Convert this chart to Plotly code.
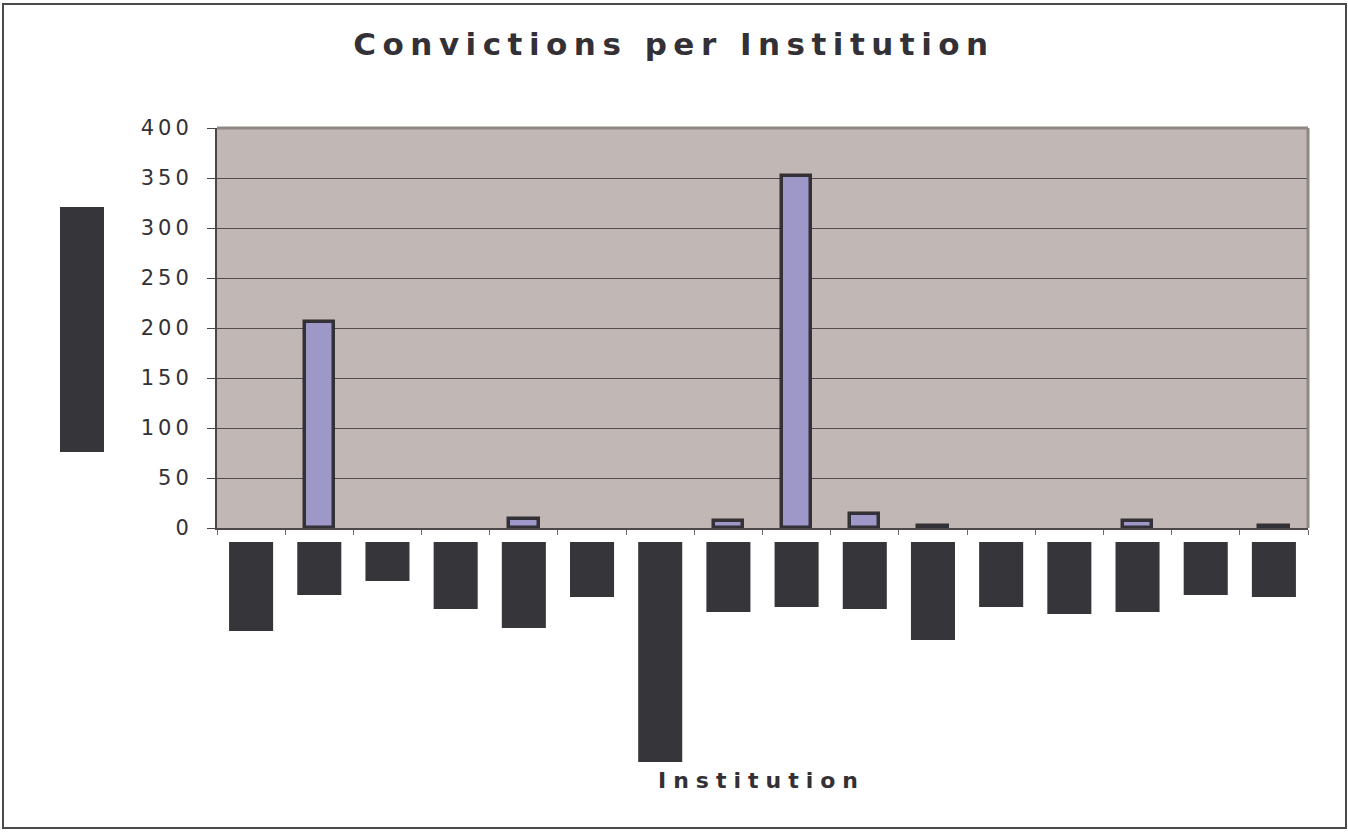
import plotly.graph_objects as go

# Convictions recorded for each of the 16 institutions
institutions = list(range(1, 17))
convictions = [0, 206, 0, 0, 9, 0, 0, 7, 352, 14, 2, 0, 0, 7, 0, 2]

y_ticks = [0, 50, 100, 150, 200, 250, 300, 350, 400]
y_tick_labels = [str(v) for v in y_ticks]

# Lower edge (page pixels) of the blacked-out category labels
label_block_bottom = [631, 595, 581, 609, 628, 597, 762, 612, 607, 609, 640, 607, 614, 612, 595, 597]

W, H = 1348, 834
L, R, T, B = 217, 1308, 128, 528   # plot-area edges in page pixels

def px_x(p):
    return (p - L) / (R - L)

def px_y(p):
    return (B - p) / (B - T)

def spaced(text, gap):
    return f'<span style="letter-spacing:{gap}px">{text}</span>'

INK = "#333036"

fig = go.Figure()
fig.add_trace(go.Bar(
    x=institutions,
    y=convictions,
    width=0.43,
    marker=dict(
        color="#9e98c8",
        # empty institutions get no outline so nothing is drawn for them
        line=dict(color=INK, width=[3.5 if v > 0 else 0 for v in convictions]),
    ),
    hoverinfo="x+y",
))

shapes = []
# blacked-out category labels under the axis
for i, bottom in zip(institutions, label_block_bottom):
    shapes.append(dict(type="rect", xref="x", yref="paper",
                       x0=i - 0.323, x1=i + 0.323,
                       y0=px_y(bottom), y1=px_y(542),
                       fillcolor="#36353a", line=dict(width=0), layer="above"))
# blacked-out vertical axis title
shapes.append(dict(type="rect", xref="paper", yref="paper",
                   x0=px_x(60), x1=px_x(104), y0=px_y(452), y1=px_y(207),
                   fillcolor="#36353a", line=dict(width=0)))
# top and right frame of the plot area
shapes.append(dict(type="line", xref="paper", yref="paper",
                   x0=0, x1=1, y0=1, y1=1, line=dict(color="#8e8784", width=3)))
shapes.append(dict(type="line", xref="paper", yref="paper",
                   x0=1, x1=1, y0=0, y1=1, line=dict(color="#8e8784", width=3)))
# chart-area border
shapes.append(dict(type="rect", xref="paper", yref="paper",
                   x0=px_x(3), x1=px_x(1346), y0=px_y(828), y1=px_y(4),
                   line=dict(color="#4a4a4a", width=2), fillcolor="rgba(0,0,0,0)"))

fig.update_layout(
    width=W, height=H,
    margin=dict(l=L, r=W - R, t=T, b=H - B, pad=0),
    paper_bgcolor="white",
    plot_bgcolor="#c1b7b4",
    showlegend=False,
    bargap=0,
    title=dict(
        text=spaced("Convictions per Institution", 6.5),
        font=dict(family="DejaVu Sans", size=31, color=INK, weight="bold"),
        x=0.5, xref="container", xanchor="center",
        y=1 - 44 / H, yref="container", yanchor="middle",
    ),
    xaxis=dict(
        range=[0.5, 16.5],
        tickmode="array",
        tickvals=[v + 0.5 for v in range(0, 17)],
        showticklabels=False,
        ticks="outside", ticklen=5, tickcolor="#6e6a6c", tickwidth=1,
        showgrid=False, zeroline=False,
        showline=True, linecolor="#4d4749", linewidth=2,
    ),
    yaxis=dict(
        range=[0, 400],
        tickmode="array",
        tickvals=y_ticks,
        ticktext=[spaced(t, 4) for t in y_tick_labels],
        tickfont=dict(family="DejaVu Sans", size=21, color=INK),
        ticks="outside", ticklen=8, tickcolor="#4d4749", tickwidth=1,
        ticklabelstandoff=10,
        showgrid=True, gridcolor="#514c4e", gridwidth=1,
        zeroline=False,
        showline=True, linecolor="#4d4749", linewidth=2,
    ),
    shapes=shapes,
    annotations=[dict(
        text=spaced("Institution", 7),
        xref="paper", yref="paper",
        x=px_x(761), y=px_y(781), xanchor="center", yanchor="middle",
        showarrow=False,
        font=dict(family="DejaVu Sans", size=22, color=INK, weight="bold"),
    )],
)

fig.write_html("out.html")
